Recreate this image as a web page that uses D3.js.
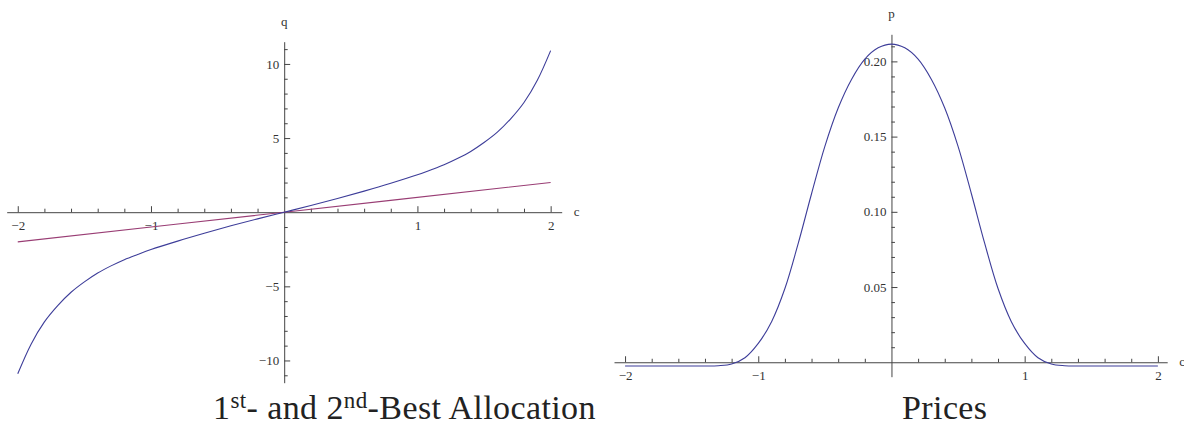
<!DOCTYPE html>
<html>
<head>
<meta charset="utf-8">
<script src="https://cdn.jsdelivr.net/npm/d3@7"></script>
<style>
body { margin: 0; background: #fff; }
svg { display: block; }
</style>
</head>
<body>
<svg id="chart" width="1184" height="426"></svg>
<script>
'use strict';

// left panel: allocations q(c)
const allocC = [-2, -1.9, -1.8, -1.7, -1.6, -1.5, -1.4, -1.3, -1.2, -1.1, -1, -0.8, -0.6, -0.4, -0.2,
    0, 0.2, 0.4, 0.6, 0.8, 1, 1.1, 1.2, 1.3, 1.4, 1.5, 1.6, 1.7, 1.8, 1.9, 2];
const curvedQ = [-10.9, -8.9, -7.4, -6.3, -5.4, -4.7, -4.1, -3.62, -3.2, -2.85, -2.52, -1.95, -1.42, -0.92, -0.45,
    0, 0.45, 0.92, 1.42, 1.95, 2.52, 2.85, 3.2, 3.62, 4.1, 4.7, 5.4, 6.3, 7.4, 8.9, 10.9];
const straightC = [-2, 0, 2];
const straightQ = [-2, 0, 2];

// right panel: prices p(c)
const priceC = [-2, -1.6, -1.4, -1.3, -1.2, -1.1, -1, -0.9, -0.8, -0.7, -0.6, -0.5, -0.4, -0.3, -0.2, -0.1,
    0, 0.1, 0.2, 0.3, 0.4, 0.5, 0.6, 0.7, 0.8, 0.9, 1, 1.1, 1.2, 1.3, 1.4, 1.6, 2];
const priceP = [-0.0025, -0.0025, -0.0025, -0.0023, -0.0012, 0.003, 0.0125, 0.027, 0.049, 0.079, 0.112, 0.1435, 0.169, 0.188, 0.2015, 0.209,
    0.2115, 0.209, 0.2015, 0.188, 0.169, 0.1435, 0.112, 0.079, 0.049, 0.027, 0.0125, 0.003, -0.0012, -0.0023, -0.0025, -0.0025, -0.0025];

const xMajorTicks = [-2, -1, 1, 2];
const qMajorTicks = [-10, -5, 5, 10];
const pMajorTicks = [0.05, 0.10, 0.15, 0.20];
const captions = ['1st- and 2nd-Best Allocation', 'Prices'];

const BLUE = '#3d3d99';
const PURPLE = '#993d74';
const SERIF = '"Liberation Serif", "Times New Roman", Times, "DejaVu Serif", serif';

const svg = d3.select('#chart');

function drawAxes(g, x, y, xMinor, yMajor, yMinor, yFormat, yName) {
    let x0 = x(0), y0 = y(0);

    let xAxis = g.append('g').attr('transform', `translate(0,${y0})`);
    xAxis.call(d3.axisBottom(x).tickValues(xMajorTicks).tickFormat(d3.format('d'))
        .tickSizeInner(-6).tickSizeOuter(0).tickPadding(9));
    xAxis.append('g').call(d3.axisBottom(x).tickValues(xMinor).tickFormat('')
        .tickSizeInner(-3.5).tickSizeOuter(0))
        .select('.domain').remove();

    let yAxis = g.append('g').attr('transform', `translate(${x0},0)`);
    yAxis.call(d3.axisLeft(y).tickValues(yMajor).tickFormat(yFormat)
        .tickSizeInner(-6).tickSizeOuter(0).tickPadding(5));
    yAxis.append('g').call(d3.axisLeft(y).tickValues(yMinor).tickFormat('')
        .tickSizeInner(-3.5).tickSizeOuter(0))
        .select('.domain').remove();

    [xAxis, yAxis].forEach(function(a) {
        a.attr('font-size', 13).attr('color', '#333');
    });
    g.selectAll('.tick text').style('font-family', SERIF).attr('fill', '#333');
    g.selectAll('.domain, .tick line').attr('stroke', '#444');

    // axis names
    g.append('text')
        .attr('x', x.range()[1] + 12).attr('y', y0).attr('dy', '0.3em')
        .style('font-family', SERIF).attr('font-size', 13).attr('fill', '#333')
        .text('c');
    g.append('text')
        .attr('x', x0).attr('y', y.range()[1] - 16)
        .attr('text-anchor', 'middle')
        .style('font-family', SERIF).attr('font-size', 13).attr('fill', '#333')
        .text(yName);
}

function drawCaption(x, text) {
    let t = svg.append('text')
        .attr('x', x).attr('y', 418.5)
        .style('font-family', SERIF)
        .attr('font-size', 34).attr('letter-spacing', 0.4).attr('fill', '#222');
    // split ordinal suffixes into superscripts
    let parts = text.split(/(st|nd)(?=-)/);
    parts.forEach(function(p, i) {
        if (i % 2 === 1) {
            t.append('tspan').attr('font-size', 23).attr('dy', -10.5).text(p);
        } else {
            let s = t.append('tspan').text(p);
            if (i > 0) s.attr('dy', 10.5);
        }
    });
}

// ---- left panel
let xL = d3.scaleLinear().domain([-2.083, 2.083]).range([6.7, 561.7]);
let yL = d3.scaleLinear().domain([-11.5, 11.5]).range([382.7, 41.7]);
let gL = svg.append('g');

let xMinor = d3.range(-10, 11).map(function(i) { return i * 0.2; })
    .filter(function(v) { return Math.abs(v - Math.round(v)) > 1e-6; });
let qMinor = d3.range(-11, 12).filter(function(v) { return v % 5 !== 0; });
drawAxes(gL, xL, yL, xMinor, qMajorTicks, qMinor, d3.format('d'), 'q');

let lineL = d3.line()
    .x(function(d) { return xL(d[0]); })
    .y(function(d) { return yL(d[1]); })
    .curve(d3.curveCatmullRom.alpha(0.5));

gL.append('path')
    .datum(d3.zip(straightC, straightQ))
    .attr('d', lineL)
    .attr('fill', 'none').attr('stroke', PURPLE).attr('stroke-width', 1.1);
gL.append('path')
    .datum(d3.zip(allocC, curvedQ))
    .attr('d', lineL)
    .attr('fill', 'none').attr('stroke', BLUE).attr('stroke-width', 1.1);

// ---- right panel
let xR = d3.scaleLinear().domain([-2.083, 2.07]).range([614, 1167.2]);
let yR = d3.scaleLinear().domain([-0.0096, 0.218]).range([376.7, 34.3]);
let gR = svg.append('g');

let pMinor = d3.range(1, 22).filter(function(i) { return i % 5 !== 0; })
    .map(function(i) { return i / 100; });
drawAxes(gR, xR, yR, xMinor, pMajorTicks, pMinor, d3.format('.2f'), 'p');

let lineR = d3.line()
    .x(function(d) { return xR(d[0]); })
    .y(function(d) { return yR(d[1]); })
    .curve(d3.curveCatmullRom.alpha(0.5));

gR.append('path')
    .datum(d3.zip(priceC, priceP))
    .attr('d', lineR)
    .attr('fill', 'none').attr('stroke', BLUE).attr('stroke-width', 1.1);

drawCaption(213, captions[0]);
drawCaption(902, captions[1]);
</script>
</body>
</html>
